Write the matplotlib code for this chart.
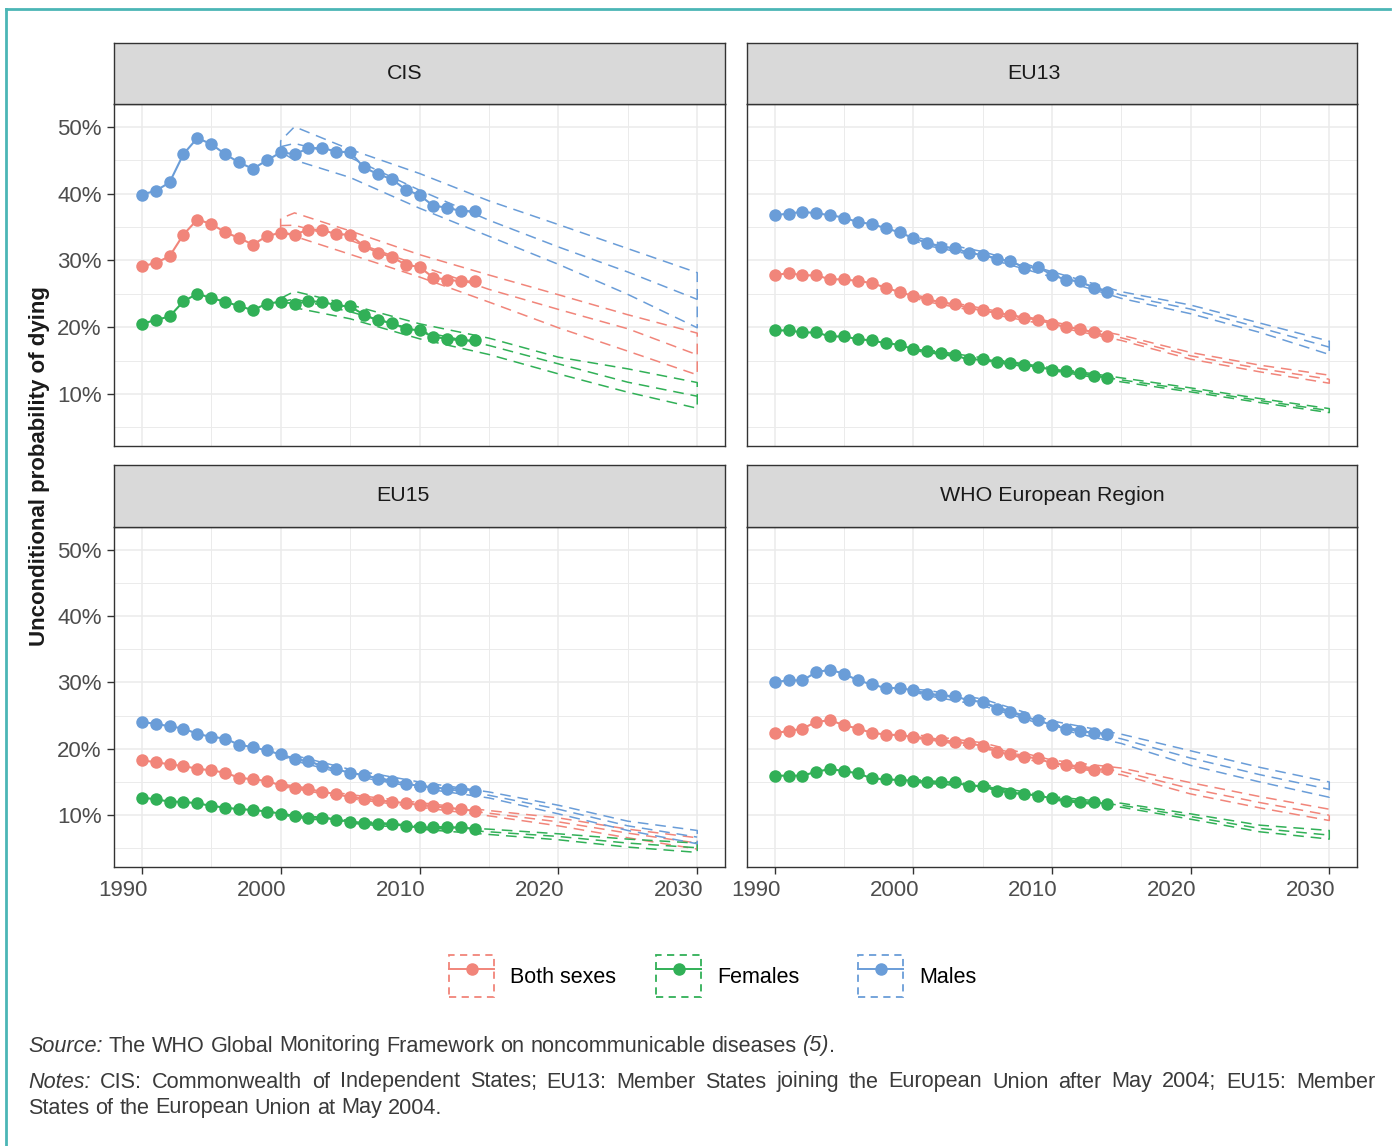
import matplotlib
matplotlib.use("Agg")
import matplotlib.pyplot as plt
import matplotlib.transforms as mtransforms
from matplotlib.lines import Line2D
from matplotlib.patches import Patch
from matplotlib.legend_handler import HandlerTuple

plt.rcParams['font.family'] = ['Liberation Sans', 'DejaVu Sans']

# ---- data -------------------------------------------------------------
years = list(range(1990, 2015))
proj_years = [2000, 2001, 2005, 2010, 2015, 2020, 2025, 2030]

regions = ["CIS", "EU13", "EU15", "WHO European Region"]
sexes = ["Both sexes", "Females", "Males"]
colors = ["#F1857A", "#31B057", "#6A9DD8"]

# observed values (%), 1990-2014
cis_both = [29.1, 29.6, 30.6, 33.85, 36.1, 35.45, 34.2, 33.35, 32.35, 33.6, 34.15, 33.85, 34.6,
            34.55, 33.9, 33.85, 32.1, 31.15, 30.5, 29.35, 29.0, 27.4, 27.1, 26.85, 26.85]
cis_fem = [20.5, 21.05, 21.6, 23.85, 25.0, 24.35, 23.8, 23.15, 22.55, 23.5, 23.8, 23.5, 23.85,
           23.8, 23.25, 23.1, 21.85, 21.0, 20.65, 19.75, 19.5, 18.55, 18.25, 18.0, 18.0]
cis_male = [39.85, 40.4, 41.65, 45.9, 48.3, 47.4, 45.9, 44.65, 43.7, 44.95, 46.15, 45.9, 46.75,
            46.85, 46.25, 46.2, 43.9, 42.9, 42.15, 40.6, 39.75, 38.15, 37.9, 37.35, 37.35]

eu13_both = [27.75, 28.1, 27.75, 27.75, 27.15, 27.15, 26.9, 26.6, 25.9, 25.25, 24.65, 24.15, 23.75,
             23.4, 22.85, 22.5, 22.1, 21.85, 21.4, 21.1, 20.5, 20.0, 19.75, 19.2, 18.65]
eu13_fem = [19.5, 19.5, 19.2, 19.2, 18.6, 18.6, 18.2, 18.0, 17.6, 17.35, 16.7, 16.4, 16.1,
            15.75, 15.15, 15.15, 14.85, 14.7, 14.35, 14.0, 13.65, 13.4, 13.1, 12.75, 12.4]
eu13_male = [36.75, 37.0, 37.25, 37.05, 36.75, 36.4, 35.7, 35.45, 34.8, 34.2, 33.3, 32.6, 32.0,
             31.8, 31.1, 30.8, 30.2, 29.9, 28.9, 29.0, 27.8, 27.1, 26.85, 25.9, 25.25]

eu15_both = [18.25, 18.0, 17.65, 17.4, 17.0, 16.75, 16.4, 15.65, 15.4, 15.15, 14.5, 14.15, 13.9,
             13.55, 13.15, 12.75, 12.5, 12.25, 12.05, 11.8, 11.55, 11.4, 11.15, 10.9, 10.65]
eu15_fem = [12.65, 12.4, 12.05, 12.0, 11.8, 11.4, 11.15, 10.9, 10.8, 10.55, 10.25, 9.9, 9.65,
            9.65, 9.3, 9.05, 8.8, 8.75, 8.65, 8.4, 8.15, 8.15, 8.15, 8.15, 7.9]
eu15_male = [24.05, 23.75, 23.4, 23.05, 22.25, 21.8, 21.55, 20.6, 20.25, 19.75, 19.15, 18.4, 18.15,
             17.4, 16.9, 16.4, 16.0, 15.5, 15.15, 14.75, 14.4, 14.15, 14.0, 14.0, 13.65]

who_both = [22.4, 22.65, 23.05, 24.05, 24.3, 23.55, 23.05, 22.4, 22.15, 22.05, 21.8, 21.45, 21.3,
            21.05, 20.8, 20.45, 19.55, 19.15, 18.8, 18.55, 17.8, 17.55, 17.2, 16.8, 16.95]
who_fem = [15.95, 15.95, 15.95, 16.55, 16.95, 16.65, 16.3, 15.55, 15.4, 15.3, 15.2, 15.05, 14.95,
           14.95, 14.4, 14.4, 13.7, 13.4, 13.2, 12.95, 12.55, 12.2, 11.95, 11.95, 11.7]
who_male = [30.05, 30.3, 30.3, 31.55, 31.9, 31.3, 30.3, 29.7, 29.15, 29.15, 28.8, 28.2, 28.05,
            27.9, 27.3, 27.05, 26.05, 25.55, 24.8, 24.3, 23.55, 23.05, 22.65, 22.4, 22.3]

# projections (%): upper, middle, lower at proj_years
cis_both_hi = [36.25, 37.1, 34.4, 30.85, 27.8, 24.85, 21.85, 19.1]
cis_both_mid = [35.2, 35.25, 33.0, 29.2, 25.65, 22.65, 19.75, 15.85]
cis_both_lo = [34.25, 33.6, 30.9, 27.5, 23.75, 19.9, 16.4, 12.85]
cis_fem_hi = [24.3, 25.35, 23.35, 20.5, 18.35, 15.5, 13.75, 11.7]
cis_fem_mid = [23.8, 24.2, 22.3, 19.4, 17.25, 14.5, 11.75, 9.65]
cis_fem_lo = [23.4, 22.9, 21.25, 18.25, 15.9, 13.0, 10.25, 7.85]
cis_male_hi = [47.9, 50.0, 46.6, 43.0, 38.9, 35.35, 31.75, 28.15]
cis_male_mid = [47.0, 47.5, 45.4, 40.5, 36.0, 32.0, 28.25, 24.15]
cis_male_lo = [46.25, 45.0, 42.4, 37.8, 33.6, 29.4, 24.9, 19.9]

eu13_both_hi = [24.9, 24.4, 22.8, 20.8, 18.8, 16.2, 14.3, 12.8]
eu13_both_mid = [24.65, 24.1, 22.5, 20.5, 18.4, 15.7, 13.8, 12.2]
eu13_both_lo = [24.4, 23.8, 22.2, 20.2, 18.0, 15.2, 13.3, 11.6]
eu13_fem_hi = [16.9, 16.6, 15.4, 13.9, 12.4, 10.9, 9.3, 7.8]
eu13_fem_mid = [16.7, 16.4, 15.2, 13.7, 12.1, 10.6, 9.0, 7.5]
eu13_fem_lo = [16.5, 16.2, 15.0, 13.5, 11.8, 10.3, 8.7, 7.2]
eu13_male_hi = [33.6, 33.0, 31.3, 28.3, 25.3, 23.3, 20.6, 17.9]
eu13_male_mid = [33.3, 32.6, 30.9, 27.9, 24.8, 22.7, 19.9, 17.0]
eu13_male_lo = [33.0, 32.2, 30.5, 27.5, 24.3, 22.0, 19.2, 15.9]

eu15_both_hi = [14.7, 14.4, 13.1, 11.9, 10.7, 9.6, 7.9, 6.6]
eu15_both_mid = [14.5, 14.2, 12.8, 11.55, 10.3, 9.0, 7.3, 5.8]
eu15_both_lo = [14.3, 14.0, 12.5, 11.2, 9.9, 8.4, 6.6, 4.9]
eu15_fem_hi = [10.4, 10.1, 9.2, 8.4, 7.9, 7.2, 6.4, 5.8]
eu15_fem_mid = [10.25, 9.9, 9.0, 8.15, 7.5, 6.8, 5.8, 5.1]
eu15_fem_lo = [10.1, 9.7, 8.8, 7.9, 7.1, 6.3, 5.2, 4.4]
eu15_male_hi = [19.4, 19.0, 16.9, 15.0, 13.5, 11.5, 9.1, 7.7]
eu15_male_mid = [19.15, 18.6, 16.4, 14.5, 13.0, 10.9, 8.4, 6.7]
eu15_male_lo = [18.9, 18.2, 16.0, 14.1, 12.6, 10.2, 7.7, 5.7]

who_both_hi = [22.0, 22.0, 20.9, 18.3, 17.1, 14.9, 12.8, 10.9]
who_both_mid = [21.8, 21.7, 20.5, 17.9, 16.6, 14.0, 11.9, 10.0]
who_both_lo = [21.6, 21.4, 20.1, 17.5, 16.1, 13.2, 11.1, 9.2]
who_fem_hi = [15.4, 15.2, 14.6, 12.8, 11.8, 10.2, 8.5, 7.7]
who_fem_mid = [15.2, 15.0, 14.4, 12.55, 11.5, 9.8, 8.0, 7.0]
who_fem_lo = [15.0, 14.8, 14.2, 12.3, 11.2, 9.4, 7.5, 6.4]
who_male_hi = [29.0, 28.8, 27.5, 24.2, 22.2, 19.7, 17.2, 15.0]
who_male_mid = [28.8, 28.4, 27.0, 23.7, 21.5, 18.6, 16.1, 13.9]
who_male_lo = [28.6, 28.0, 26.5, 23.2, 20.8, 17.5, 15.0, 12.7]

observed = {
    "CIS": [cis_both, cis_fem, cis_male],
    "EU13": [eu13_both, eu13_fem, eu13_male],
    "EU15": [eu15_both, eu15_fem, eu15_male],
    "WHO European Region": [who_both, who_fem, who_male],
}
projected = {
    "CIS": [(cis_both_hi, cis_both_mid, cis_both_lo), (cis_fem_hi, cis_fem_mid, cis_fem_lo),
            (cis_male_hi, cis_male_mid, cis_male_lo)],
    "EU13": [(eu13_both_hi, eu13_both_mid, eu13_both_lo), (eu13_fem_hi, eu13_fem_mid, eu13_fem_lo),
             (eu13_male_hi, eu13_male_mid, eu13_male_lo)],
    "EU15": [(eu15_both_hi, eu15_both_mid, eu15_both_lo), (eu15_fem_hi, eu15_fem_mid, eu15_fem_lo),
             (eu15_male_hi, eu15_male_mid, eu15_male_lo)],
    "WHO European Region": [(who_both_hi, who_both_mid, who_both_lo), (who_fem_hi, who_fem_mid, who_fem_lo),
                            (who_male_hi, who_male_mid, who_male_lo)],
}

x_ticks = [1990, 2000, 2010, 2020, 2030]
y_ticks = [10, 20, 30, 40, 50]
y_labels = ["10%", "20%", "30%", "40%", "50%"]

source_note = "The WHO Global Monitoring Framework on noncommunicable diseases"
notes_line1 = ("CIS: Commonwealth of Independent States; EU13: Member States joining the "
               "European Union after May 2004; EU15: Member")
notes_line2 = "States of the European Union at May 2004."

# ---- figure -----------------------------------------------------------
W, H = 1396, 1146
fig = plt.figure(figsize=(W / 100, H / 100), dpi=100)
fig.patch.set_facecolor("white")
renderer = fig.canvas.get_renderer()

def px_axes(x0, y0, x1, y1):
    return fig.add_axes([x0 / W, 1 - y1 / H, (x1 - x0) / W, (y1 - y0) / H])

# (plot left, plot top, plot right, plot bottom, strip top, strip label shift px)
boxes = [(114, 104, 725, 446, 43, -15), (747, 104, 1357, 446, 43, -18),
         (114, 527, 725, 867, 465, -17), (747, 527, 1357, 867, 465, 0)]

DASH = (0, (7, 4.5))
grid_c = "#EBEBEB"
frame_c = "#333333"
tick_fs = 16

for i, region in enumerate(regions):
    x0, y0, x1, y1, st, sh = boxes[i]
    ax = px_axes(x0, y0, x1, y1)
    strip = px_axes(x0, st, x1, y0)

    strip.set_facecolor("#D9D9D9")
    strip.set_xticks([])
    strip.set_yticks([])
    for s in strip.spines.values():
        s.set_color(frame_c)
        s.set_linewidth(1.0)
    lab_tr = strip.transAxes + mtransforms.ScaledTranslation(sh / 100, 0, fig.dpi_scale_trans)
    strip.text(0.5, 0.5, region, ha="center", va="center", fontsize=15.4, color="#1A1A1A",
               transform=lab_tr)

    for k, col in enumerate(colors):
        hi, mid, lo = projected[region][k]
        ax.fill_between(proj_years, lo, hi, facecolor="none", edgecolor=col,
                        linestyle=DASH, linewidth=1.1, zorder=3)
        ax.plot(proj_years, mid, color=col, linestyle=DASH, linewidth=1.1, zorder=3)
        ax.plot(years, observed[region][k], color=col, linewidth=1.5, marker="o",
                markersize=9, markeredgewidth=0, zorder=4)

    ax.set_xlim(1988, 2032)
    ax.set_ylim(2.2, 53.4)
    ax.set_xticks(x_ticks)
    ax.set_xticks([1995, 2005, 2015, 2025], minor=True)
    ax.set_yticks(y_ticks)
    ax.set_yticks([5, 15, 25, 35, 45], minor=True)
    ax.grid(True, which="major", color=grid_c, linewidth=1.1, zorder=0)
    ax.grid(True, which="minor", color=grid_c, linewidth=0.7, zorder=0)
    ax.set_axisbelow(True)
    for s in ax.spines.values():
        s.set_color(frame_c)
        s.set_linewidth(1.0)
    ax.tick_params(which="minor", length=0)
    ax.tick_params(which="major", length=5, width=1.0, color=frame_c,
                   labelsize=tick_fs, labelcolor="#4D4D4D", pad=4)

    if i % 2 == 0:
        ax.set_yticklabels(y_labels)
    else:
        ax.tick_params(axis="y", length=0, labelleft=False)
    if i >= 2:
        ax.set_xticklabels([str(y) for y in x_ticks])
        shift = mtransforms.ScaledTranslation(-0.19, 0, fig.dpi_scale_trans)
        for lab in ax.get_xticklabels():
            lab.set_transform(lab.get_transform() + shift)
    else:
        ax.tick_params(axis="x", length=0, labelbottom=False)

fig.text(40 / W, 1 - 466 / H, "Unconditional probability of dying", rotation=90,
         ha="center", va="center", fontsize=16, fontweight="bold", color="#1A1A1A")

# legend: one entry per key, dashed ribbon outline + line with point
key_left_px = [449, 656, 858]
for col, lab, kx in zip(colors, sexes, key_left_px):
    h = (Patch(facecolor="none", edgecolor=col, linestyle=(0, (4, 3)), linewidth=1.3),
         Line2D([], [], color=col, marker="o", markersize=8, linewidth=1.4))
    fig.legend([h], [lab], loc="center left", bbox_to_anchor=(kx / W, 1 - 976 / H),
               frameon=False, fontsize=15.5, handlelength=2.1, handleheight=2.6,
               handletextpad=0.75, borderpad=0, borderaxespad=0,
               handler_map={tuple: HandlerTuple(ndivide=1)})

# notes, placed word by word so the italic parts and the justified line fit
note_c = "#3A3A3A"
note_fs = 15.6

def text_w(s, style="normal"):
    t = fig.text(0, 0, s, fontsize=note_fs, style=style)
    w = t.get_window_extent(renderer).width
    t.remove()
    return w

space_w = text_w("x x") - text_w("xx")

def put_words(words, y_px, x_start=28, x_end=None):
    # words: (text, style, glued to previous word)
    widths = [text_w(w, st) for w, st, _ in words]
    n_gaps = sum(1 for _, _, glued in words[1:] if not glued)
    gap = space_w
    if x_end is not None and n_gaps:
        gap = (x_end - x_start - sum(widths)) / n_gaps
    x = x_start
    for j, ((w, st, glued), wd) in enumerate(zip(words, widths)):
        if j > 0 and not glued:
            x += gap
        fig.text(x / W, 1 - y_px / H, w, ha="left", va="center", fontsize=note_fs,
                 style=st, color=note_c)
        x += wd

put_words([("Source:", "italic", False)] + [(w, "normal", False) for w in source_note.split()]
          + [("(5)", "italic", False), (".", "normal", True)], 1046)
put_words([("Notes:", "italic", False)] + [(w, "normal", False) for w in notes_line1.split()],
          1082, x_end=1375)
put_words([(w, "normal", False) for w in notes_line2.split()], 1108)

# teal frame
frame = "#4BB6B6"
fig.add_artist(Line2D([6 / W, 6 / W], [0, 1 - 9 / H], transform=fig.transFigure, color=frame, lw=2))
fig.add_artist(Line2D([6 / W, 1390 / W], [1 - 9 / H, 1 - 9 / H], transform=fig.transFigure,
                      color=frame, lw=2))

fig.savefig("out.png", dpi=100)
